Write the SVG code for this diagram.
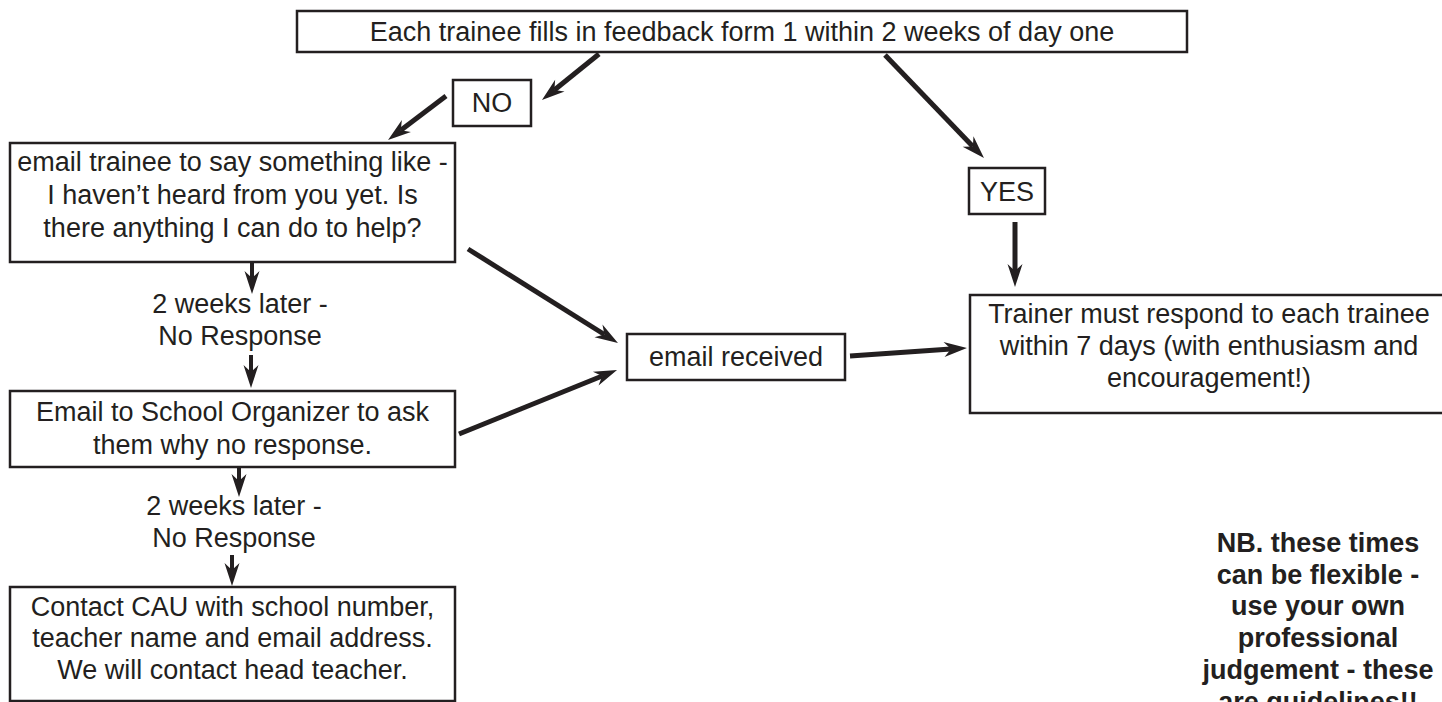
<svg xmlns="http://www.w3.org/2000/svg" width="1442" height="702" viewBox="0 0 1442 702">
<defs>
<style>
.box{fill:#fff;stroke:#231f20;stroke-width:2.5}
.t{font-family:"Liberation Sans",Arial,sans-serif;font-size:27px;fill:#231f20;text-anchor:middle}
.b{font-weight:bold}
.c{stroke:#231f20;fill:none;stroke-width:5;marker-end:url(#ah)}
.v{stroke-width:4}
</style>
<marker id="ah" viewBox="-8 -9 26 18" refX="0" refY="0" markerWidth="26" markerHeight="18" markerUnits="userSpaceOnUse" orient="auto">
<path d="M16,0 L-7,-7.5 L0,0 L-7,7.5 Z" fill="#231f20"/>
</marker>
</defs>
<rect width="1442" height="702" fill="#fff"/>

<g id="connectors">
<line class="c" x1="599" y1="54" x2="554.4" y2="90"/>
<line class="c" x1="446" y1="96" x2="400.8" y2="130.3"/>
<line class="c" x1="885" y1="55" x2="972.9" y2="146.5"/>
<line class="c" x1="1015" y1="222" x2="1015" y2="271"/>
<line class="c" x1="468" y1="249" x2="604.4" y2="334.5"/>
<line class="c" x1="459" y1="434" x2="602.2" y2="376"/>
<line class="c" x1="850" y1="356" x2="951" y2="349.1"/>
<line class="c v" x1="252" y1="262" x2="252" y2="278"/>
<line class="c v" x1="251" y1="355" x2="251" y2="372"/>
<line class="c v" x1="239" y1="467" x2="239" y2="481"/>
<line class="c v" x1="232" y1="555" x2="232" y2="570"/>
</g>

<g id="start">
<rect class="box" x="297" y="11" width="890" height="41"/>
<text class="t" x="742" y="41">Each trainee fills in feedback form 1 within 2 weeks of day one</text>
</g>

<g id="no">
<rect class="box" x="453" y="80" width="78" height="46"/>
<text class="t" x="492" y="112">NO</text>
</g>

<g id="yes">
<rect class="box" x="969" y="168" width="76" height="46"/>
<text class="t" x="1007" y="201">YES</text>
</g>

<g id="email-trainee">
<rect class="box" x="10" y="143" width="445" height="119"/>
<text class="t" x="232.5" y="171">email trainee to say something like -</text>
<text class="t" x="232.5" y="204">I haven’t heard from you yet. Is</text>
<text class="t" x="232.5" y="237">there anything I can do to help?</text>
</g>

<g id="label1">
<text class="t" x="240" y="313">2 weeks later -</text>
<text class="t" x="240" y="345">No Response</text>
</g>

<g id="school-organizer">
<rect class="box" x="10" y="391" width="445" height="76"/>
<text class="t" x="232.5" y="421">Email to School Organizer to ask</text>
<text class="t" x="232.5" y="454">them why no response.</text>
</g>

<g id="label2">
<text class="t" x="234" y="515">2 weeks later -</text>
<text class="t" x="234" y="547">No Response</text>
</g>

<g id="contact-cau">
<rect class="box" x="10" y="587" width="445" height="114"/>
<text class="t" x="232.5" y="616">Contact CAU with school number,</text>
<text class="t" x="232.5" y="647">teacher name and email address.</text>
<text class="t" x="232.5" y="679">We will contact head teacher.</text>
</g>

<g id="email-received">
<rect class="box" x="627" y="334" width="218" height="46"/>
<text class="t" x="736" y="366">email received</text>
</g>

<g id="trainer">
<rect class="box" x="970" y="295" width="480" height="118"/>
<text class="t" x="1209" y="323">Trainer must respond to each trainee</text>
<text class="t" x="1209" y="355">within 7 days (with enthusiasm and</text>
<text class="t" x="1209" y="387">encouragement!)</text>
</g>

<g id="note">
<text class="t b" x="1318" y="552">NB. these times</text>
<text class="t b" x="1318" y="584">can be flexible -</text>
<text class="t b" x="1318" y="615">use your own</text>
<text class="t b" x="1318" y="647">professional</text>
<text class="t b" x="1318" y="679">judgement - these</text>
<text class="t b" x="1318" y="711">are guidelines!!</text>
</g>
</svg>
